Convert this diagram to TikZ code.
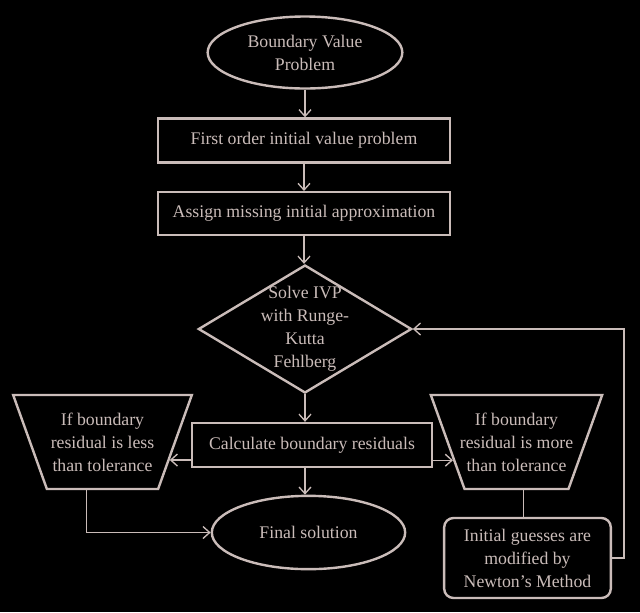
\documentclass[tikz,border=0pt]{standalone}
\usepackage{fontspec}
\setmainfont{Liberation Serif}
\usetikzlibrary{shapes.geometric, arrows.meta}
\definecolor{chalk}{RGB}{202,188,185}

\tikzset{
  shape line/.style={draw=chalk, line width=1.8pt, text=chalk, inner sep=0pt, align=center, font=\fontsize{13.3}{17.25}\selectfont},
  ivp text/.style={text=chalk, inner sep=0pt, align=center, font=\fontsize{13.3}{17.25}\selectfont},
  terminal/.style={shape line, ellipse, minimum width=146pt, minimum height=54pt},
  process/.style={shape line, rectangle, minimum height=33pt},
  decision/.style={shape line, diamond, minimum width=160pt, minimum height=96pt},
  check/.style={shape line, trapezium, trapezium angle=69.6, shape border rotate=180, trapezium stretches body=true, inner ysep=12pt, minimum height=70.5pt},
  update/.style={shape line, rectangle, rounded corners=7pt, minimum width=125pt, minimum height=60pt},
  flow/.style={draw=chalk, line width=1pt, -{Straight Barb[length=5pt,width=9pt]}},
  link/.style={draw=chalk, line width=1pt}
}

\begin{document}
\begin{tikzpicture}[x=0.75pt, y=-0.75pt]
 \fill[black] (0,0) rectangle (640,612);
 \useasboundingbox (0,0) rectangle (640,612);

 \node[terminal] (bvp) at (305,52.5) {Boundary Value\\Problem};
 \node[process, minimum width=219pt] (first) at (304,140.5) {First order initial value problem};
 \node[process, minimum width=219pt, minimum height=32pt] (assign) at (304,213.5) {Assign missing initial approximation};
 \node[decision, label={[ivp text]center:Solve IVP\\with Runge-\\Kutta\\Fehlberg}] (ivp) at (305,329) {};
 \node[process, minimum width=180pt] (calc) at (312,445) {Calculate boundary residuals};
 \node[check, minimum width=134pt] (less) at (102.5,442) {If boundary\\residual is less\\than tolerance};
 \node[check, inner xsep=-3.5pt] (more) at (516.5,442) {If boundary\\residual is more\\than tolerance};
 \node[terminal, minimum width=145pt, minimum height=55pt] (final) at (308.5,532.5) {Final solution};
 \node[update] (newton) at (527.5,558) {Initial guesses are\\modified by\\Newton's Method};

 % main line
 \draw[flow] (bvp.south) -- (bvp.south |- first.north);
 \draw[flow] (first.south) -- (first.south |- assign.north);
 \draw[flow] (assign.south) -- (assign.south |- ivp.north);
 \draw[flow] (ivp.south) -- (ivp.south |- calc.north);
 \draw[flow] (ivp.south |- calc.south) -- (ivp.south |- final.north);

 % residual checks
 \draw[flow] (calc.west |- less.-15) -- (less.-15);
 \draw[flow] (calc.east |- more.196) -- (more.196);
 \draw[flow] ([xshift=-12pt]less.south) |- (final.west);
 \draw[link] ([xshift=-3pt]newton.north |- more.south) -- ([xshift=-3pt]newton.north);
 \draw[flow] (newton.east) -- ++(12,0) |- (ivp.east);
\end{tikzpicture}
\end{document}
